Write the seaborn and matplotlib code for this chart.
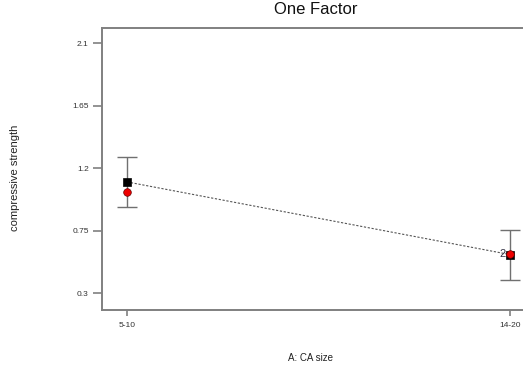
import matplotlib
matplotlib.use("Agg")
import matplotlib.pyplot as plt
import seaborn as sns
import pandas as pd

# data
levels = ["5-10", "14-20"]
mean_strength = [1.10, 0.577]
ci_half = [0.18, 0.18]
obs_strength = [1.027, 0.58]
obs_count = [1, 2]
y_ticks = [0.3, 0.75, 1.2, 1.65, 2.1]
y_tick_labels = ["0.3", "0.75", "1.2", "1.65", "2.1"]

sns.set_theme(style="white")
plt.rcParams['font.family'] = ['Liberation Sans', 'DejaVu Sans']

df_mean = pd.DataFrame({"x": range(len(levels)), "y": mean_strength})
df_obs = pd.DataFrame({"x": range(len(levels)), "y": obs_strength})

fig = plt.figure(figsize=(5.23, 3.67), dpi=100)
ax = fig.add_axes([102 / 523, 57 / 367, 430 / 523, 282 / 367])

grey = "#808080"

# error bars
ax.errorbar(df_mean["x"], df_mean["y"], yerr=ci_half, fmt="none",
            ecolor="#707070", elinewidth=1.0, capsize=7, capthick=1.0, zorder=2)

# dotted line joining means
sns.lineplot(data=df_mean, x="x", y="y", ax=ax, color="#555555",
             linestyle=(0, (2, 1.5)), linewidth=0.8, zorder=3)

# means as black squares
sns.scatterplot(data=df_mean, x="x", y="y", ax=ax, marker="s", s=36,
                color="black", edgecolor="black", zorder=4)

# observed points as red dots
sns.scatterplot(data=df_obs, x="x", y="y", ax=ax, marker="o", s=30,
                color="#ee0000", edgecolor="#660000", linewidth=0.5, zorder=5)

for i, n in enumerate(obs_count):
    if n > 1:
        ax.text(i - 0.012, obs_strength[i], str(n), ha="right", va="center",
                fontsize=8, color="#333344", zorder=6)

ax.set_xlim(-0.0653, 1.0574)
ax.set_ylim(0.178, 2.208)
ax.set_xticks(range(len(levels)))
ax.set_xticklabels(levels)
ax.set_yticks(y_ticks)
ax.set_yticklabels(y_tick_labels)
ax.set_xlabel("")
ax.set_ylabel("")

for side in ["top", "left", "bottom"]:
    ax.spines[side].set_color(grey)
    ax.spines[side].set_linewidth(1.4)
ax.spines["right"].set_visible(False)

ax.tick_params(axis="both", direction="out", length=6.5, width=1.2,
               color=grey, labelsize=6, labelcolor="#333333", pad=3,
               bottom=True, left=True)
ax.tick_params(axis="x", length=4.5, pad=4)

fig.text(316 / 523, 1 - 10 / 367, "One Factor", ha="center", va="center",
         fontsize=12, color="#111111")
fig.text(310 / 523, 1 - 358 / 367, "A: CA size", ha="center", va="center",
         fontsize=7, color="#222222")
fig.text(15 / 523, 1 - 178 / 367, "compressive strength", ha="center",
         va="center", rotation=90, fontsize=8, color="#222222")

fig.savefig("out.png", dpi=100)
